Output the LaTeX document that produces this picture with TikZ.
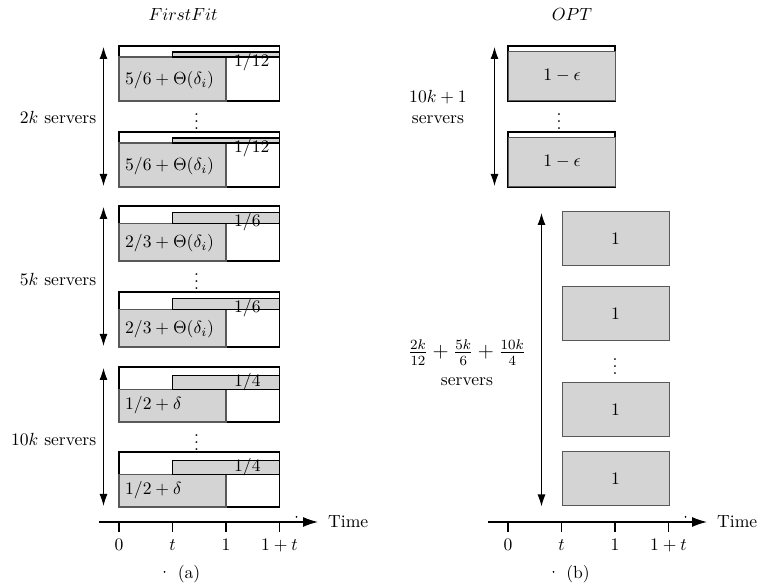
\documentclass[tikz,border=0pt]{standalone}
\usepackage{amsmath}
\usetikzlibrary{arrows.meta}

\definecolor{loadgray}{gray}{0.83}
\definecolor{edgegray}{gray}{0.35}

\tikzset{
    srvbox/.style={draw=black, line width=0.7pt},
    load/.style={draw=edgegray, fill=loadgray, line width=0.7pt},
    bar/.style={draw=black, fill=loadgray, line width=0.7pt},
    span/.style={{Latex[length=2.4mm,width=1.6mm]}-{Latex[length=2.4mm,width=1.6mm]}, line width=0.6pt},
    axis/.style={-{Latex[length=3mm,width=2mm]}, line width=0.7pt},
    ticklabel/.style={anchor=north, text height=1.5ex, text depth=0.25ex}
}

\begin{document}
\begin{tikzpicture}
    \useasboundingbox (-2.38,-1.32) rectangle (12.8,10.44);

    % (a) FirstFit
    \node (fftitle) at (1.28,10.14) {$FirstFit$};

    % 2k servers
    \draw[srvbox] (0,8.42) rectangle (3.21,9.52);
    \draw[load] (0,8.42) rectangle (2.14,9.30);
    \draw[bar] (1.07,9.30) rectangle (3.21,9.40);
    \node[anchor=west] (ffa1) at (0,8.84) {$5/6+\Theta(\delta_i)$};
    \node[anchor=west] (ffb1) at (2.18,9.20) {$1/12$};
    \node (ffdots1) at (1.55,8.11) {$\vdots$};
    \draw[srvbox] (0,6.70) rectangle (3.21,7.80);
    \draw[load] (0,6.70) rectangle (2.14,7.58);
    \draw[bar] (1.07,7.58) rectangle (3.21,7.68);
    \node[anchor=west] (ffa2) at (0,7.12) {$5/6+\Theta(\delta_i)$};
    \node[anchor=west] (ffb2) at (2.18,7.48) {$1/12$};

    % 5k servers
    \draw[srvbox] (0,5.22) rectangle (3.21,6.32);
    \draw[load] (0,5.22) rectangle (2.14,5.97);
    \draw[bar] (1.07,5.97) rectangle (3.21,6.19);
    \node[anchor=west] (ffa3) at (0,5.58) {$2/3+\Theta(\delta_i)$};
    \node[anchor=west] (ffb3) at (2.18,6.00) {$1/6$};
    \node (ffdots2) at (1.55,4.91) {$\vdots$};
    \draw[srvbox] (0,3.50) rectangle (3.21,4.60);
    \draw[load] (0,3.50) rectangle (2.14,4.25);
    \draw[bar] (1.07,4.25) rectangle (3.21,4.47);
    \node[anchor=west] (ffa4) at (0,3.86) {$2/3+\Theta(\delta_i)$};
    \node[anchor=west] (ffb4) at (2.18,4.28) {$1/6$};

    % 10k servers
    \draw[srvbox] (0,2.00) rectangle (3.21,3.10);
    \draw[load] (0,2.00) rectangle (2.14,2.65);
    \draw[bar] (1.07,2.65) rectangle (3.21,2.93);
    \node[anchor=west] (ffa5) at (0,2.33) {$1/2+\delta$};
    \node[anchor=west] (ffb5) at (2.18,2.80) {$1/4$};
    \node (ffdots3) at (1.55,1.70) {$\vdots$};
    \draw[srvbox] (0,0.30) rectangle (3.21,1.40);
    \draw[load] (0,0.30) rectangle (2.14,0.95);
    \draw[bar] (1.07,0.95) rectangle (3.21,1.23);
    \node[anchor=west] (ffa6) at (0,0.63) {$1/2+\delta$};
    \node[anchor=west] (ffb6) at (2.18,1.10) {$1/4$};

    % server counts
    \coordinate (ffs1top) at (-0.31,9.50);
    \coordinate (ffs1bot) at (-0.31,6.72);
    \coordinate (ffs2top) at (-0.31,6.30);
    \coordinate (ffs2bot) at (-0.31,3.52);
    \coordinate (ffs3top) at (-0.31,3.08);
    \coordinate (ffs3bot) at (-0.31,0.32);
    \draw[span] (ffs1bot) -- (ffs1top);
    \draw[span] (ffs2bot) -- (ffs2top);
    \draw[span] (ffs3bot) -- (ffs3top);
    \node[anchor=east] (ffn1) at (-0.33,8.08) {$2k$ servers};
    \node[anchor=east] (ffn2) at (-0.33,4.84) {$5k$ servers};
    \node[anchor=east] (ffn3) at (-0.33,1.64) {$10k$ servers};

    % time axis
    \coordinate (ffax0) at (-0.4,0);
    \coordinate (ffax1) at (3.98,0);
    \draw[axis] (ffax0) -- (ffax1);
    \node[anchor=west] (fftime) at (4.06,0) {Time};
    \draw[line width=0.7pt] (0,0) -- (0,-0.21) node[ticklabel] (fft0) {$0$};
    \draw[line width=0.7pt] (1.07,0) -- (1.07,-0.21) node[ticklabel] (fft1) {$t$};
    \draw[line width=0.7pt] (2.14,0) -- (2.14,-0.21) node[ticklabel] (fft2) {$1$};
    \draw[line width=0.7pt] (3.21,0) -- (3.21,-0.21) node[ticklabel] (fft3) {$1+t$};
    \fill (3.55,0.10) circle (0.02);
    \fill (0.91,-1.00) circle (0.02);
    \node (capa) at (1.40,-1.04) {(a)};

    % (b) OPT
    \begin{scope}[xshift=7.78cm]
    \node (opttitle) at (1.28,10.14) {$OPT$};

    % 10k+1 servers
    \draw[srvbox] (0,8.42) rectangle (2.14,9.52);
    \node[load, anchor=south west, minimum width=2.14cm, minimum height=0.98cm, inner sep=0pt] (opta1) at (0,8.42) {$1-\epsilon$};
    \node (optdots1) at (1.02,8.11) {$\vdots$};
    \draw[srvbox] (0,6.70) rectangle (2.14,7.80);
    \node[load, anchor=south west, minimum width=2.14cm, minimum height=0.98cm, inner sep=0pt] (opta2) at (0,6.70) {$1-\epsilon$};
    \coordinate (opts1top) at (-0.27,9.50);
    \coordinate (opts1bot) at (-0.27,6.72);
    \draw[span] (opts1bot) -- (opts1top);
    \node[align=center] (optn1) at (-1.40,8.30) {$10k+1$\\servers};

    % remaining servers
    \node[load, anchor=south west, minimum width=2.14cm, minimum height=1.08cm, inner sep=0pt] (optb1) at (1.07,5.11) {$1$};
    \node[load, anchor=south west, minimum width=2.14cm, minimum height=1.08cm, inner sep=0pt] (optb2) at (1.07,3.62) {$1$};
    \node (optdots2) at (2.14,3.22) {$\vdots$};
    \node[load, anchor=south west, minimum width=2.14cm, minimum height=1.08cm, inner sep=0pt] (optb3) at (1.07,1.70) {$1$};
    \node[load, anchor=south west, minimum width=2.14cm, minimum height=1.08cm, inner sep=0pt] (optb4) at (1.07,0.31) {$1$};
    \coordinate (opts2top) at (0.67,6.18);
    \coordinate (opts2bot) at (0.67,0.31);
    \draw[span] (opts2bot) -- (opts2top);
    \node[align=center] (optn2) at (-0.82,3.18) {{\large $\frac{2k}{12}+\frac{5k}{6}+\frac{10k}{4}$}\\[4pt]servers};

    % time axis
    \coordinate (optax0) at (-0.4,0);
    \coordinate (optax1) at (3.98,0);
    \draw[axis] (optax0) -- (optax1);
    \node[anchor=west] (opttime) at (4.06,0) {Time};
    \draw[line width=0.7pt] (0,0) -- (0,-0.21) node[ticklabel] (optt0) {$0$};
    \draw[line width=0.7pt] (1.07,0) -- (1.07,-0.21) node[ticklabel] (optt1) {$t$};
    \draw[line width=0.7pt] (2.14,0) -- (2.14,-0.21) node[ticklabel] (optt2) {$1$};
    \draw[line width=0.7pt] (3.21,0) -- (3.21,-0.21) node[ticklabel] (optt3) {$1+t$};
    \fill (3.55,0.10) circle (0.02);
    \fill (0.91,-1.00) circle (0.02);
    \node (capb) at (1.40,-1.04) {(b)};
    \end{scope}
\end{tikzpicture}
\end{document}
